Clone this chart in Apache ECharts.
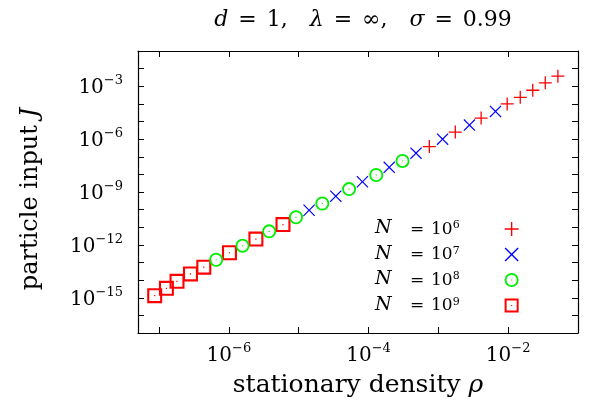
<!DOCTYPE html>
<html>
<head>
<meta charset="utf-8">
<script src="https://cdn.jsdelivr.net/npm/echarts@6/dist/echarts.min.js"></script>
<style>
html,body{margin:0;padding:0;background:#fff;}
#c{width:596px;height:411px;}
</style>
</head>
<body>
<div id="c"></div>
<script>
// ---- data ----
const seriesNames = ['N6', 'N7', 'N8', 'N9'];
const legendExponents = ['6', '7', '8', '9'];

const rhoN6 = [7.43e-4, 1.75e-3, 4.10e-3, 9.68e-3, 1.49e-2, 2.25e-2, 3.40e-2, 5.15e-2];
const jN6   = [3.78e-7, 2.51e-6, 1.57e-5, 9.91e-5, 2.36e-4, 5.92e-4, 1.56e-3, 3.72e-3];

const rhoN7 = [1.41e-5, 3.40e-5, 8.18e-5, 1.98e-4, 4.79e-4, 1.15e-3, 2.79e-3, 6.58e-3];
const jN7   = [9.25e-11, 5.82e-10, 3.81e-9, 2.52e-8, 1.59e-7, 9.98e-7, 6.28e-6, 3.75e-5];

const rhoN8 = [6.58e-7, 1.57e-6, 3.78e-6, 9.16e-6, 2.18e-5, 5.27e-5, 1.29e-4, 3.07e-4];
const jN8   = [1.43e-13, 8.97e-13, 5.86e-12, 3.69e-11, 2.23e-10, 1.46e-9, 9.18e-9, 5.78e-8];

const rhoN9 = [8.67e-8, 1.276e-7, 1.81e-7, 2.82e-7, 4.38e-7, 1.02e-6, 2.44e-6, 5.96e-6];
const jN9   = [1.31e-15, 3.42e-15, 8.57e-15, 2.26e-14, 5.40e-14, 3.57e-13, 2.13e-12, 1.42e-11];

const xTickExponents = [-6, -4, -2];
const yTickExponents = [-3, -6, -9, -12, -15];

// ---- styling ----
const FONT = '"DejaVu Serif", "Liberation Serif", serif';
const colors = ['#ff0000', '#0000ff', '#00ee00', '#ff0000'];
const plusPath = 'path://M0,9 H20 V11 H0 Z M9,0 H11 V20 H9 Z';
const crossPath = 'path://M1.4,0 L10,8.6 L18.6,0 L20,1.4 L11.4,10 L20,18.6 L18.6,20 L10,11.4 L1.4,20 L0,18.6 L8.6,10 L0,1.4 Z';
const circlePath = 'path://M10,0 A10,10 0 1,1 10,20 A10,10 0 1,1 10,0 Z M10,2.6 A7.4,7.4 0 1,0 10,17.4 A7.4,7.4 0 1,0 10,2.6 Z M9.2,9.2 H10.8 V10.8 H9.2 Z';
const squarePath = 'path://M0,0 H20 V20 H0 Z M2.8,2.8 V17.2 H17.2 V2.8 Z M9.2,9.2 H10.8 V10.8 H9.2 Z';
const symbols = [plusPath, crossPath, circlePath, squarePath];
const sizes = [13, 12, 14, 15];

function zip(a, b) { return a.map((v, i) => [v, b[i]]); }
const dataSets = [zip(rhoN6, jN6), zip(rhoN7, jN7), zip(rhoN8, jN8), zip(rhoN9, jN9)];

function expOf(v) {
  const e = Math.log10(v);
  const r = Math.round(e);
  return Math.abs(e - r) < 1e-6 ? r : null;
}
const tickRich = {
  b: { fontFamily: FONT, fontSize: 20, color: '#000', lineHeight: 24, verticalAlign: 'bottom' },
  e: { fontFamily: FONT, fontSize: 13, color: '#000', lineHeight: 10, verticalAlign: 'top' }
};
function tickLabel(list) {
  return function (v) {
    const e = expOf(v);
    if (e === null || list.indexOf(e) < 0) return '';
    return '{b|10}{e|\u2212' + Math.abs(e) + '}';
  };
}

const chart = echarts.init(document.getElementById('c'), null, { renderer: 'canvas' });

const series = seriesNames.map((name, i) => ({
  name: name,
  type: 'scatter',
  xAxisIndex: 0,
  yAxisIndex: 0,
  symbol: symbols[i],
  symbolSize: sizes[i],
  itemStyle: { color: colors[i], opacity: 1 },
  data: dataSets[i],
  z: 10 - i
}));

const axisLine = { show: true, onZero: false, lineStyle: { color: '#000', width: 1.2 } };
const tStyle = { fontFamily: FONT, fontSize: 22, color: '#000' };
const lStyle = { fontFamily: FONT, fontSize: 17, color: '#000', lineHeight: 18, verticalAlign: 'bottom' };

chart.setOption({
  animation: false,
  backgroundColor: '#fff',
  title: {
    text: '{i|d}{q|=}{t|1,}{s| }{i|\u03bb}{q|=}{t|\u221e,}{s| }{i|\u03c3}{q|=}{t|0.99}',
    left: 358,
    textAlign: 'center',
    top: 4,
    textStyle: {
      fontFamily: FONT, fontSize: 22, fontWeight: 'normal', color: '#000',
      rich: {
        i: Object.assign({}, tStyle, { fontStyle: 'italic' }),
        t: tStyle,
        q: Object.assign({}, tStyle, { padding: [0, 10, 0, 10] }),
        s: Object.assign({}, tStyle, { width: 22 })
      }
    }
  },
  grid: { left: 138, right: 18, top: 51, bottom: 78, containLabel: false },
  legend: {
    orient: 'vertical',
    left: 370,
    top: 214,
    align: 'right',
    itemWidth: 94,
    itemHeight: 14,
    itemGap: 6.5,
    symbolKeepAspect: true,
    data: seriesNames,
    formatter: function (name) {
      const i = seriesNames.indexOf(name);
      return '{n|N}{o|=}{d|10}{e|' + legendExponents[i] + '}';
    },
    textStyle: {
      fontFamily: FONT, fontSize: 17, color: '#000',
      rich: {
        n: Object.assign({}, lStyle, { fontSize: 19, fontStyle: 'italic', width: 28, align: 'left' }),
        o: Object.assign({}, lStyle, { width: 28, align: 'center' }),
        d: lStyle,
        e: { fontFamily: FONT, fontSize: 11, color: '#000', lineHeight: 8, verticalAlign: 'top' }
      }
    }
  },
  xAxis: [{
    type: 'log',
    logBase: 10,
    min: 5e-8,
    max: 0.1,
    position: 'bottom',
    axisLine: axisLine,
    axisTick: { show: true, inside: true, length: 6, lineStyle: { color: '#000', width: 1 } },
    axisLabel: { formatter: tickLabel(xTickExponents), margin: 9, rich: tickRich, showMinLabel: true, showMaxLabel: true },
    splitLine: { show: false },
    name: 'stationary density {i|\u03c1}',
    nameLocation: 'middle',
    nameGap: 40,
    nameTextStyle: {
      fontFamily: FONT, fontSize: 25, color: '#000',
      rich: { i: { fontFamily: FONT, fontSize: 25, fontStyle: 'italic', color: '#000' } }
    }
  }, {
    type: 'log',
    logBase: 10,
    min: 5e-8,
    max: 0.1,
    position: 'top',
    axisLine: axisLine,
    axisTick: { show: true, inside: true, length: 6, lineStyle: { color: '#000', width: 1 } },
    axisLabel: { show: false },
    splitLine: { show: false }
  }],
  yAxis: [{
    type: 'log',
    logBase: 10,
    min: 1e-17,
    max: 1e-1,
    interval: 1,
    position: 'left',
    axisLine: axisLine,
    axisTick: { show: true, inside: true, length: 6, lineStyle: { color: '#000', width: 1 } },
    axisLabel: { formatter: tickLabel(yTickExponents), margin: 15, rich: tickRich, showMinLabel: true, showMaxLabel: true },
    splitLine: { show: false },
    name: 'particle input {i|J}',
    nameLocation: 'middle',
    nameRotate: 90,
    nameGap: 95,
    nameTextStyle: {
      fontFamily: FONT, fontSize: 24, color: '#000',
      padding: [0, 14, 0, 0],
      rich: { i: { fontFamily: FONT, fontSize: 24, fontStyle: 'italic', color: '#000' } }
    }
  }, {
    type: 'log',
    logBase: 10,
    min: 1e-17,
    max: 1e-1,
    interval: 1,
    position: 'right',
    axisLine: axisLine,
    axisTick: { show: true, inside: true, length: 6, lineStyle: { color: '#000', width: 1 } },
    axisLabel: { show: false },
    splitLine: { show: false }
  }],
  series: series
});
</script>
</body>
</html>
